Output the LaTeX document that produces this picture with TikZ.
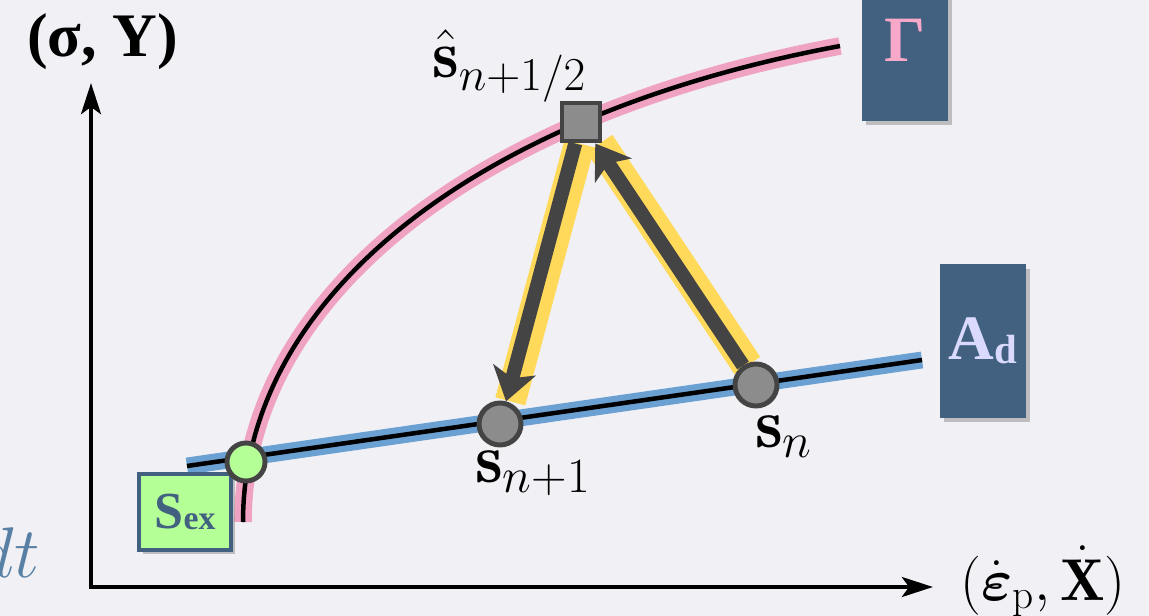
\documentclass[tikz,border=0pt]{standalone}
\usepackage{fix-cm}
\usepackage{amsmath}
\usepackage{fontspec}
\newfontfamily\tagfont{Liberation Serif}
\usepackage{tikz}
\usetikzlibrary{arrows.meta, shadows, backgrounds}
\definecolor{bgpaper}{RGB}{240, 240, 245}
\definecolor{gammapink}{RGB}{240, 162, 194}
\definecolor{adblue}{RGB}{106, 160, 210}
\definecolor{pathyellow}{RGB}{255, 217, 90}
\definecolor{stepgray}{RGB}{68, 68, 68}
\definecolor{nodegray}{RGB}{140, 140, 140}
\definecolor{exgreen}{RGB}{180, 255, 150}
\definecolor{slate}{RGB}{66, 96, 128}
\definecolor{gammatext}{RGB}{248, 168, 200}
\definecolor{adtext}{RGB}{218, 218, 255}
\definecolor{dtblue}{RGB}{88, 128, 165}

\begin{document}
\begin{tikzpicture}[x=0.025cm, y=-0.025cm,
        state/.style={circle, draw=stepgray, line width=3.5pt, fill=nodegray,
                      minimum size=1.05cm, inner sep=0pt},
        halfstate/.style={rectangle, draw=stepgray, line width=3.5pt, fill=nodegray,
                          minimum size=0.95cm, inner sep=0pt},
        exact/.style={circle, draw=stepgray, line width=3.5pt, fill=exgreen,
                      minimum size=0.95cm, inner sep=0pt},
        tag/.style={rectangle, fill=slate, minimum width=2.15cm, inner sep=0pt,
                    drop shadow={opacity=0.45, shadow xshift=3pt, shadow yshift=-3pt}},
        exbox/.style={rectangle, fill=exgreen, draw=slate, line width=3pt, text=slate,
                      minimum width=2.3cm, minimum height=1.9cm, inner sep=0pt,
                      font=\tagfont\bfseries\fontsize{37}{44}\selectfont,
                      drop shadow={opacity=0.45, shadow xshift=3pt, shadow yshift=-3pt}},
        lbl/.style={inner sep=0pt, font=\fontsize{50}{60}\selectfont},
        axis/.style={line width=3.5pt, line join=miter,
                     {Stealth[length=22pt, width=14pt, inset=5pt]}-{Stealth[length=22pt, width=14pt, inset=5pt]}},
        band/.style={line width=22pt, pathyellow},
        stepline/.style={line width=10pt, draw=stepgray,
                         -{Stealth[length=23pt, width=31pt, inset=6pt]}}
    ]
    \useasboundingbox (0,0) rectangle (1149,616);

    \coordinate (origin) at (91,587);
    \coordinate (ytop) at (91,83);
    \coordinate (xend) at (933,587);
    \coordinate (gstart) at (243,522);
    \coordinate (gend) at (840,46);
    \coordinate (adstart) at (187,466);
    \coordinate (adend) at (922,360);

    \begin{pgfonlayer}{background}
        \fill[bgpaper] (0,0) rectangle (1149,616);
        \draw[axis] (ytop) -- (origin) -- (xend);
        % yield surface and admissible set
        \draw[gammapink, line width=12.5pt] (gstart) .. controls (243,300) and (470,115) .. (gend);
        \draw[black, line width=3.2pt] (gstart) .. controls (243,300) and (470,115) .. (gend);
        \draw[adblue, line width=12pt] (adstart) -- (adend);
        \draw[black, line width=3.2pt] (adstart) -- (adend);
    \end{pgfonlayer}

    \node[tag, minimum height=3.15cm] (gbox) at (905,58) {};
    \node[inner sep=0pt, text=gammatext, font=\tagfont\bfseries\fontsize{46}{55}\selectfont] (gname) at (905,40) {Γ};
    \node[tag, minimum height=3.825cm, text=adtext, font=\tagfont\bfseries\fontsize{45}{54}\selectfont] (adbox) at (983,341)
        {A\raisebox{-3pt}{\fontsize{29}{34}\selectfont d}};
    \node[exbox] (exlabel) at (185,512) {S\raisebox{-1pt}{\fontsize{24}{29}\selectfont ex}};

    \node[exact] (sex) at (246,462) {};
    \node[state] (sn) at (756,385) {};
    \node[state] (snext) at (500,424) {};
    \node[halfstate] (shalf) at (581,122) {};

    \node[lbl, anchor=base west] (snlabel) at (755,447) {$\mathbf{s}_n$};
    \node[lbl, anchor=base west] (snextlabel) at (475,482) {$\mathbf{s}_{n+1}$};
    \node[lbl, anchor=base west, font=\fontsize{48}{58}\selectfont] (shalflabel) at (432,78) {$\hat{\mathbf{s}}_{n+1/2}$};

    \node[inner sep=0pt, anchor=base west, font=\tagfont\bfseries\fontsize{44}{53}\selectfont] (ylabel) at (27,57)
        {(σ, Y)};
    \node[inner sep=0pt, anchor=base west, font=\fontsize{42}{50}\selectfont] (xlabel) at (960,600)
        {$(\dot{\boldsymbol{\varepsilon}}_{\mathrm{p}},\dot{\mathbf{X}})$};
    \node[inner sep=0pt, anchor=base east, text=dtblue, font=\fontsize{51}{61}\selectfont] (dtcut) at (40,577) {$dt$};

    \begin{pgfonlayer}{background}
        \draw[band, transform canvas={xshift=3pt}] (sn) -- (shalf);
        \draw[band, transform canvas={xshift=3pt}] (shalf) -- (snext);
    \end{pgfonlayer}
    \draw[stepline] (sn) -- (shalf);
    \draw[stepline] (shalf) -- (snext);
\end{tikzpicture}
\end{document}
